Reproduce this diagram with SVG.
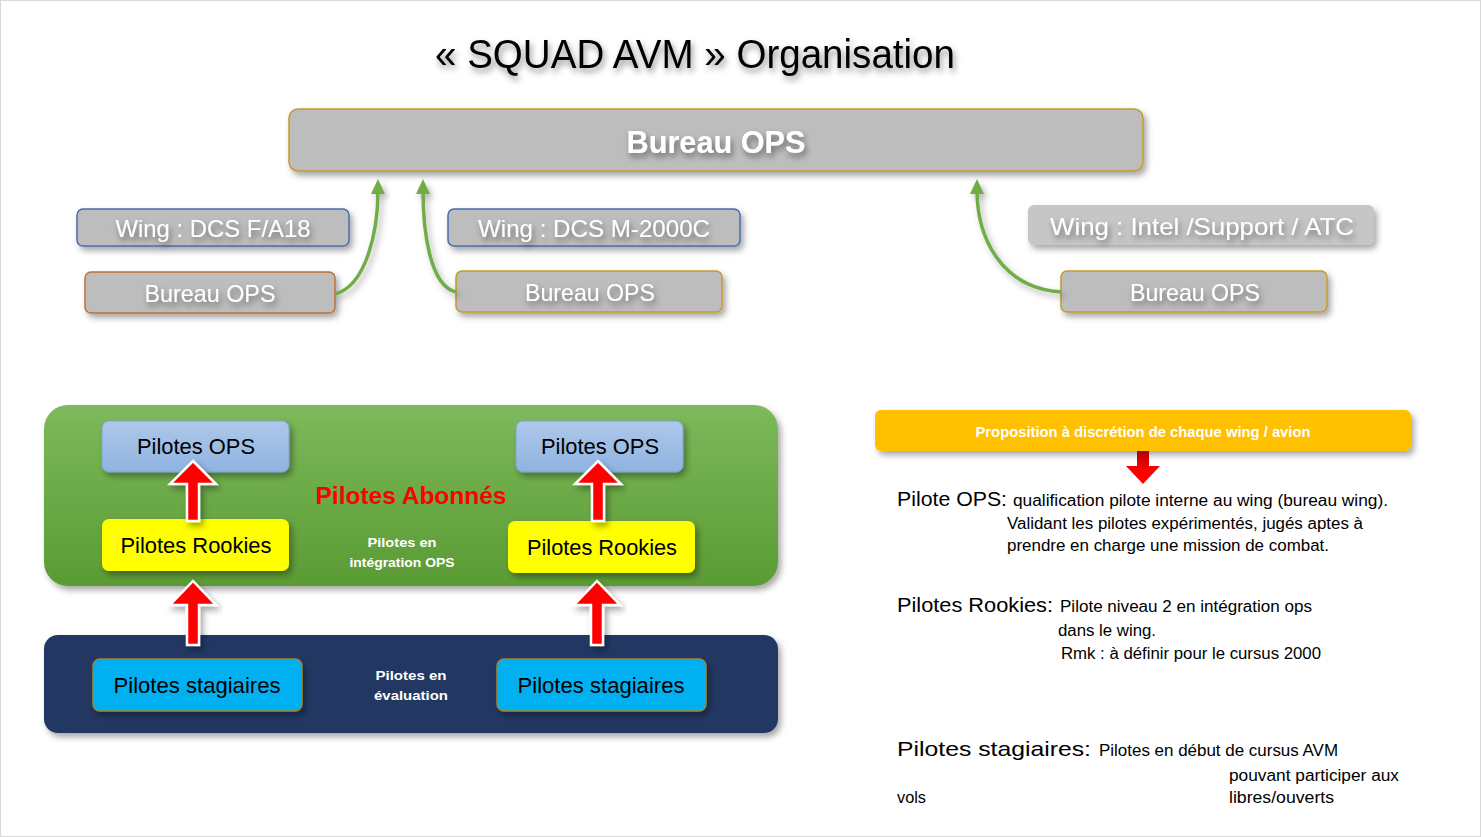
<svg xmlns="http://www.w3.org/2000/svg" width="1481" height="837" viewBox="0 0 1481 837">
<style>
  text { font-family: "Liberation Sans", Arial, sans-serif; }
  .gbox { fill: #bdbdbd; stroke-width: 1.5; filter: url(#sh); }
  .wt { fill: #ffffff; font-size: 24px; text-anchor: middle; filter: url(#tsh); }
  .bk { fill: #000000; font-size: 22px; text-anchor: middle; }
  .lbl { fill: #000000; font-size: 21px; }
  .body { fill: #000000; font-size: 16px; }
  .wsm { fill: #ffffff; font-size: 13px; font-weight: bold; text-anchor: middle; }
  .green { fill: none; stroke: #70AD47; stroke-width: 3.5; marker-end: url(#ga); filter: url(#lsh); }
  .red { fill: #ff0000; stroke: #ffffff; stroke-width: 2.5; stroke-linejoin: miter; filter: url(#sh); }
</style>
<defs>
  <filter id="sh" x="-10%" y="-20%" width="125%" height="160%">
    <feDropShadow dx="3" dy="4" stdDeviation="3" flood-color="#000" flood-opacity="0.35"/>
  </filter>
  <filter id="tsh" x="-10%" y="-30%" width="125%" height="180%">
    <feDropShadow dx="2" dy="4" stdDeviation="3" flood-color="#000" flood-opacity="0.45"/>
  </filter>
  <filter id="lsh" x="-30%" y="-10%" width="160%" height="130%">
    <feDropShadow dx="3" dy="4" stdDeviation="3" flood-color="#000" flood-opacity="0.3"/>
  </filter>
  <marker id="ga" markerUnits="userSpaceOnUse" markerWidth="16" markerHeight="16" viewBox="0 0 16 16" refX="4" refY="8" orient="auto">
    <path d="M0,1 L15,8 L0,15 Z" fill="#70AD47"/>
  </marker>
  <linearGradient id="gg" x1="0" y1="0" x2="0" y2="1">
    <stop offset="0" stop-color="#7db95c"/>
    <stop offset="1" stop-color="#5a9b33"/>
  </linearGradient>
  <linearGradient id="bg" x1="0" y1="0" x2="0" y2="1">
    <stop offset="0" stop-color="#adc8ea"/>
    <stop offset="1" stop-color="#8fb3e0"/>
  </linearGradient>
  <linearGradient id="rg" x1="0" y1="0" x2="0" y2="1">
    <stop offset="0" stop-color="#b00000"/>
    <stop offset="0.6" stop-color="#ff0000"/>
    <stop offset="1" stop-color="#ff0000"/>
  </linearGradient>
</defs>

<rect x="0" y="0" width="1481" height="837" fill="#ffffff"/>
<rect x="0.5" y="0.5" width="1480" height="836" fill="none" stroke="#d9d9d9" stroke-width="1"/>

<g id="title">
  <text x="695" y="68" font-size="41" text-anchor="middle" fill="#000" filter="url(#tsh)" textLength="520" lengthAdjust="spacingAndGlyphs">« SQUAD AVM » Organisation</text>
</g>

<g id="bureau-ops-top">
  <rect class="gbox" x="289" y="109" width="854" height="62" rx="9" stroke="#c39b2b"/>
  <text x="716" y="153" fill="#fff" font-size="32" font-weight="bold" text-anchor="middle" filter="url(#tsh)" textLength="179" lengthAdjust="spacingAndGlyphs">Bureau OPS</text>
</g>

<g id="wing-fa18">
  <rect class="gbox" x="77" y="209" width="272" height="37" rx="6" stroke="#4a6cab"/>
  <text class="wt" x="213" y="237" textLength="195" lengthAdjust="spacingAndGlyphs">Wing : DCS F/A18</text>
</g>
<g id="bureau-ops-fa18">
  <rect class="gbox" x="85" y="272" width="250" height="41" rx="6" stroke="#c0703a"/>
  <text class="wt" x="210" y="302" textLength="131" lengthAdjust="spacingAndGlyphs">Bureau OPS</text>
</g>

<g id="wing-m2000">
  <rect class="gbox" x="448" y="209" width="292" height="37" rx="6" stroke="#4a6cab"/>
  <text class="wt" x="594" y="237" textLength="232" lengthAdjust="spacingAndGlyphs">Wing : DCS M-2000C</text>
</g>
<g id="bureau-ops-m2000">
  <rect class="gbox" x="456" y="271" width="266" height="41" rx="6" stroke="#c39b2b"/>
  <text class="wt" x="590" y="301" textLength="130" lengthAdjust="spacingAndGlyphs">Bureau OPS</text>
</g>

<g id="wing-intel">
  <rect x="1028" y="205" width="346" height="40" rx="6" fill="#c6c6c6" filter="url(#sh)"/>
  <text class="wt" x="1202" y="235" textLength="304" lengthAdjust="spacingAndGlyphs">Wing : Intel /Support / ATC</text>
</g>
<g id="bureau-ops-intel">
  <rect class="gbox" x="1061" y="271" width="266" height="41" rx="6" stroke="#c39b2b"/>
  <text class="wt" x="1195" y="301" textLength="130" lengthAdjust="spacingAndGlyphs">Bureau OPS</text>
</g>

<g id="pilotes-abonnes">
  <rect x="44" y="405" width="734" height="181" rx="24" fill="url(#gg)" filter="url(#sh)"/>
  <text x="411" y="504" fill="#ff0000" font-size="23" font-weight="bold" text-anchor="middle" textLength="191" lengthAdjust="spacingAndGlyphs">Pilotes  Abonnés</text>
  <text class="wsm" x="402" y="547" textLength="69" lengthAdjust="spacingAndGlyphs">Pilotes  en</text>
  <text class="wsm" x="402" y="567" textLength="105" lengthAdjust="spacingAndGlyphs">intégration OPS</text>
</g>

<g id="pilotes-ops-1">
  <rect x="102" y="421" width="187" height="51" rx="7" fill="url(#bg)" stroke="#7fa3d3" stroke-width="1" filter="url(#sh)"/>
  <text class="bk" x="196" y="454" textLength="118" lengthAdjust="spacingAndGlyphs">Pilotes  OPS</text>
</g>
<g id="pilotes-ops-2">
  <rect x="516" y="421" width="167" height="51" rx="7" fill="url(#bg)" stroke="#7fa3d3" stroke-width="1" filter="url(#sh)"/>
  <text class="bk" x="600" y="454" textLength="118" lengthAdjust="spacingAndGlyphs">Pilotes  OPS</text>
</g>
<g id="pilotes-rookies-1">
  <rect x="102" y="519" width="187" height="52" rx="7" fill="#ffff00" filter="url(#sh)"/>
  <text class="bk" x="196" y="553" textLength="151" lengthAdjust="spacingAndGlyphs">Pilotes Rookies</text>
</g>
<g id="pilotes-rookies-2">
  <rect x="508" y="521" width="187" height="52" rx="7" fill="#ffff00" filter="url(#sh)"/>
  <text class="bk" x="602" y="555" textLength="150" lengthAdjust="spacingAndGlyphs">Pilotes Rookies</text>
</g>

<g id="pilotes-evaluation">
  <rect x="44" y="635" width="734" height="98" rx="14" fill="#203864" filter="url(#sh)"/>
  <text class="wsm" x="411" y="680" textLength="71" lengthAdjust="spacingAndGlyphs">Pilotes  en</text>
  <text class="wsm" x="411" y="700" textLength="74" lengthAdjust="spacingAndGlyphs">évaluation</text>
</g>
<g id="pilotes-stagiaires-1">
  <rect x="93" y="659" width="209" height="52" rx="7" fill="#00b0f0" stroke="#a0862b" stroke-width="1.5" filter="url(#sh)"/>
  <text class="bk" x="197" y="693" textLength="167" lengthAdjust="spacingAndGlyphs">Pilotes stagiaires</text>
</g>
<g id="pilotes-stagiaires-2">
  <rect x="497" y="659" width="209" height="52" rx="7" fill="#00b0f0" stroke="#a0862b" stroke-width="1.5" filter="url(#sh)"/>
  <text class="bk" x="601" y="693" textLength="167" lengthAdjust="spacingAndGlyphs">Pilotes stagiaires</text>
</g>

<g id="proposition">
  <rect x="875" y="410" width="536" height="41" rx="6" fill="#ffc000" filter="url(#sh)"/>
  <text x="1143" y="437" fill="#fff" font-size="14" font-weight="bold" text-anchor="middle" textLength="335" lengthAdjust="spacingAndGlyphs">Proposition à discrétion de chaque wing / avion</text>
</g>

<g id="connectors">
  <path class="green" d="M335,294 C366,286 378,232 378,190"/>
  <path class="green" d="M456,292 C430,286 423,232 423,190"/>
  <path class="green" d="M1061,292 C1000,288 977,236 977,190"/>
  <path class="red" d="M193,461 L216,484 L199,484 L199,521 L187,521 L187,484 L170,484 Z"/>
  <path class="red" d="M598,461 L621,484 L604,484 L604,521 L592,521 L592,484 L575,484 Z"/>
  <path class="red" d="M193,581 L216,605 L199,605 L199,645 L187,645 L187,605 L170,605 Z"/>
  <path class="red" d="M597,581 L620,605 L603,605 L603,645 L591,645 L591,605 L574,605 Z"/>
  <path d="M1137,451 L1149,451 L1149,466 L1160,466 L1143,484 L1126,466 L1137,466 Z" fill="url(#rg)"/>
</g>

<g id="definitions">
  <text class="lbl" x="897" y="506" textLength="110" lengthAdjust="spacingAndGlyphs">Pilote OPS:</text>
  <text class="body" x="1013" y="506" textLength="375" lengthAdjust="spacingAndGlyphs">qualification pilote interne au wing (bureau wing).</text>
  <text class="body" x="1007" y="529" textLength="356" lengthAdjust="spacingAndGlyphs">Validant les pilotes expérimentés, jugés aptes à</text>
  <text class="body" x="1007" y="551" textLength="322" lengthAdjust="spacingAndGlyphs">prendre en charge une mission de combat.</text>

  <text class="lbl" x="897" y="612" textLength="156" lengthAdjust="spacingAndGlyphs">Pilotes Rookies:</text>
  <text class="body" x="1060" y="612" textLength="252" lengthAdjust="spacingAndGlyphs">Pilote niveau 2 en intégration ops</text>
  <text class="body" x="1058" y="636" textLength="98" lengthAdjust="spacingAndGlyphs">dans le wing.</text>
  <text class="body" x="1061" y="659" textLength="260" lengthAdjust="spacingAndGlyphs">Rmk : à définir pour le cursus 2000</text>

  <text class="lbl" x="897" y="756" textLength="194" lengthAdjust="spacingAndGlyphs">Pilotes stagiaires:</text>
  <text class="body" x="1099" y="756" textLength="239" lengthAdjust="spacingAndGlyphs">Pilotes en début de cursus AVM</text>
  <text class="body" x="1229" y="781" textLength="170" lengthAdjust="spacingAndGlyphs">pouvant participer aux</text>
  <text class="body" x="897" y="803" textLength="29" lengthAdjust="spacingAndGlyphs">vols</text>
  <text class="body" x="1229" y="803" textLength="105" lengthAdjust="spacingAndGlyphs">libres/ouverts</text>
</g>
</svg>
